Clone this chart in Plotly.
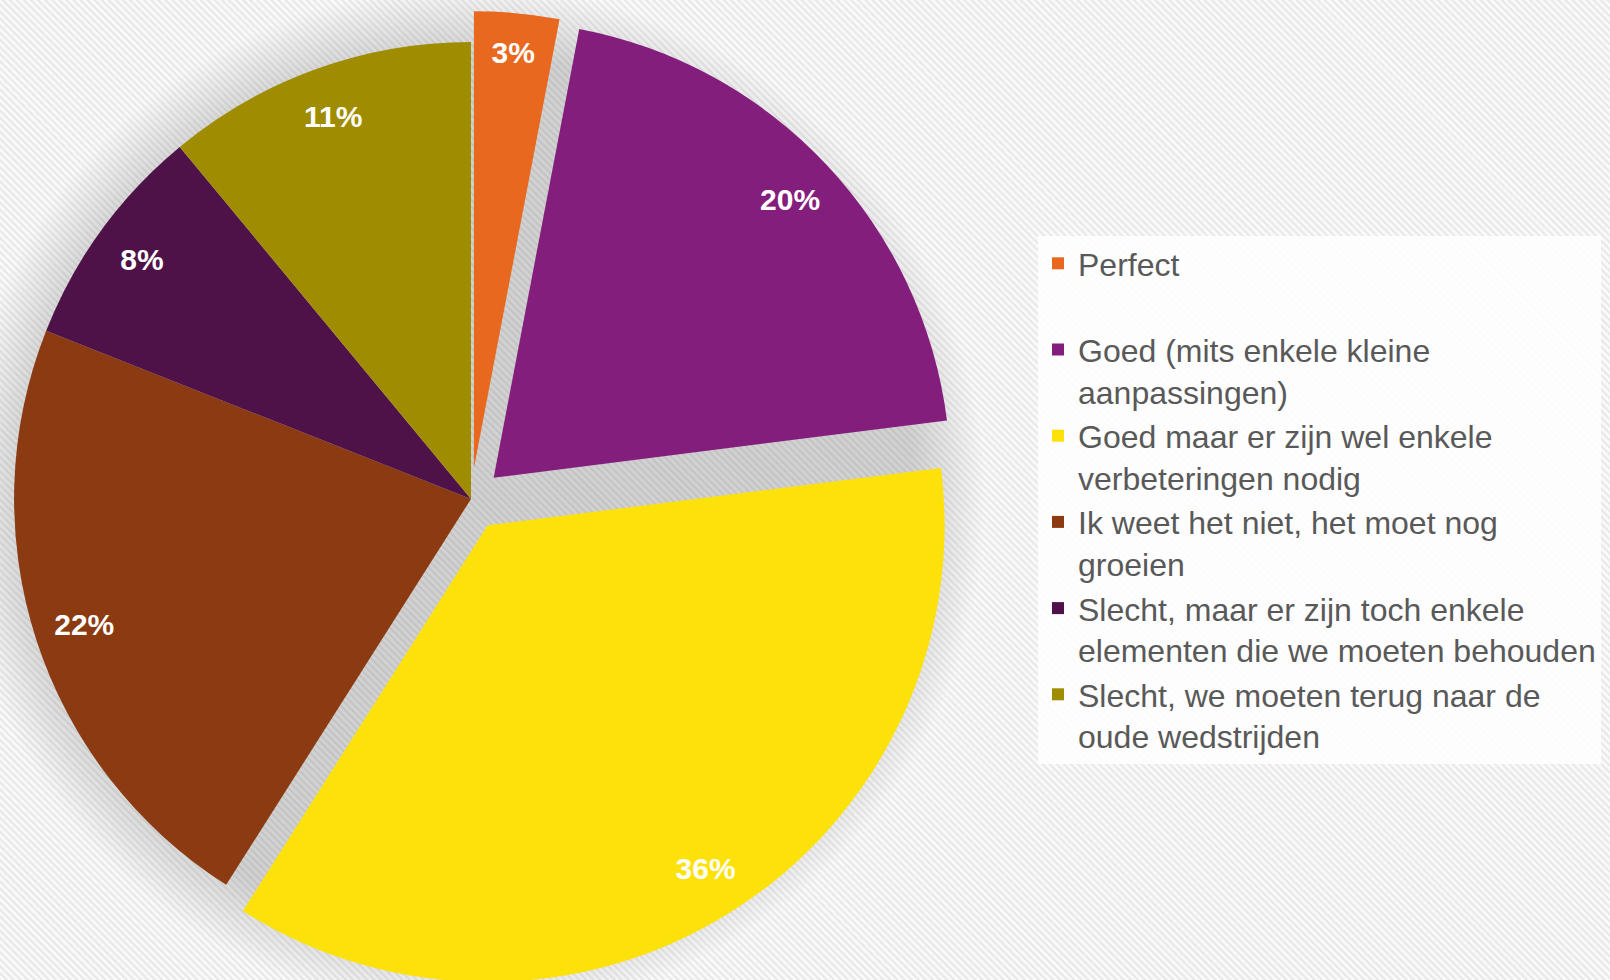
import base64
import plotly.graph_objects as go

# ---- data ----
labels = [
    "Perfect<br> ",
    "Goed (mits enkele kleine<br>aanpassingen)",
    "Goed maar er zijn wel enkele<br>verbeteringen nodig",
    "Ik weet het niet, het moet nog<br>groeien",
    "Slecht, maar er zijn toch enkele<br>elementen die we moeten behouden",
    "Slecht, we moeten terug naar de<br>oude wedstrijden",
]
values = [3, 20, 36, 22, 8, 11]
colors = ["#E7681E", "#841E7C", "#FDE10B", "#8B3A11", "#4E1248", "#A08C00"]
pulls = [0.068, 0.068, 0.068, 0, 0, 0]

# figure is slightly larger than the window and shifted left so the pie can
# reach the left edge of the view the way the original does
OFF_X = 20
W, H = 1610 + OFF_X, 990
pie_cx, pie_cy, pie_half = 471 + OFF_X, 499, 488
dom_x = [(pie_cx - pie_half) / W, (pie_cx + pie_half) / W]
dom_y = [1 - (pie_cy + pie_half) / H, 1 - (pie_cy - pie_half) / H]

# background: fine diagonal hatch plus soft shadow around the pie
svg = f'''<svg xmlns="http://www.w3.org/2000/svg" width="{W}" height="{H}">
<defs>
<pattern id="p" width="5" height="5" patternUnits="userSpaceOnUse" patternTransform="rotate(-45)">
<rect width="5" height="5" fill="#f9f9f9"/>
<rect width="2" height="5" fill="#e8e8e8"/>
</pattern>
<radialGradient id="g" cx="{pie_cx}" cy="{pie_cy}" r="515" gradientUnits="userSpaceOnUse">
<stop offset="0.86" stop-color="#000" stop-opacity="0.16"/>
<stop offset="1" stop-color="#000" stop-opacity="0"/>
</radialGradient>
</defs>
<rect width="{W}" height="{H}" fill="url(#p)"/>
<rect width="{W}" height="{H}" fill="url(#g)"/>
</svg>'''
bg_uri = "data:image/svg+xml;base64," + base64.b64encode(svg.encode()).decode()

fig = go.Figure()

# filled slices
fig.add_trace(go.Pie(
    labels=labels, values=values, sort=False, direction="clockwise", rotation=0,
    marker=dict(colors=colors, line=dict(width=0)),
    pull=pulls, textinfo="none", hoverinfo="label+percent",
    domain=dict(x=dom_x, y=dom_y), showlegend=True,
))

# percentage labels (ring trace so labels sit near the outer edge)
fig.add_trace(go.Pie(
    labels=labels, values=values, sort=False, direction="clockwise", rotation=0,
    marker=dict(colors=["rgba(0,0,0,0)"] * len(values), line=dict(width=0)),
    pull=pulls, hole=0.78, texttemplate="%{percent:.0%}", textposition="inside",
    insidetextorientation="horizontal",
    textfont=dict(family="Liberation Sans", size=30, color="white", weight="bold"),
    hoverinfo="skip", domain=dict(x=dom_x, y=dom_y), showlegend=False,
))

fig.update_layout(
    width=W, height=H,
    margin=dict(l=0, r=0, t=0, b=0),
    paper_bgcolor="#f3f3f3",
    plot_bgcolor="#f3f3f3",
    images=[dict(source=bg_uri, xref="paper", yref="paper", x=0, y=1,
                 sizex=1, sizey=1, sizing="stretch", layer="below")],
    legend=dict(
        x=(1038 + OFF_X) / W, y=1 - 236 / H, xanchor="left", yanchor="top",
        bgcolor="rgba(255,255,255,0.85)", borderwidth=0,
        font=dict(family="Liberation Sans", size=32, color="#595959"),
        valign="top", traceorder="normal",
    ),
)

fig.write_html(
    "out.html",
    config={"displayModeBar": False},
    post_script=(
        "document.body.style.margin='0';"
        "document.body.style.overflow='hidden';"
        f"document.getElementById('{{plot_id}}').style.marginLeft='-{OFF_X}px';"
    ),
)
